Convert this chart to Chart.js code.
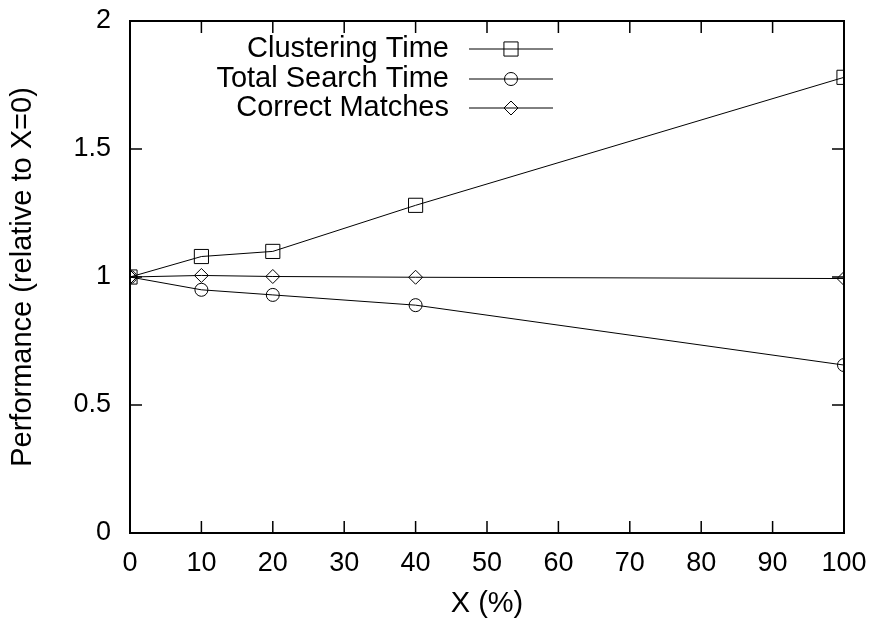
<!DOCTYPE html>
<html>
<head>
<meta charset="utf-8">
<title>Performance relative to X=0</title>
<script src="https://cdn.jsdelivr.net/npm/chart.js@4.4.1/dist/chart.umd.min.js"></script>
<style>
  html, body { margin: 0; padding: 0; background: #ffffff; }
  #wrap { width: 872px; height: 621px; }
</style>
</head>
<body>
<div id="wrap"><canvas id="perfChart" width="872" height="621"></canvas></div>
<script>
// values
var xValues = [0, 10, 20, 40, 100];
var clusteringTime = [1, 1.08, 1.10, 1.28, 1.78];
var totalSearchTime = [1, 0.95, 0.93, 0.89, 0.656];
var correctMatches = [1, 1.006, 1.002, 0.999, 0.994];

var seriesNames = ['Clustering Time', 'Total Search Time', 'Correct Matches'];
var seriesMarkers = ['rect', 'circle', 'rectRot'];
var seriesRadius = [10, 6.5, 7];

var FONT = 'Liberation Sans, Arial, Helvetica, sans-serif';
var TICK_SIZE = 27;
var TEXT_SIZE = 29;

function toPoints(ys) {
  var pts = [];
  for (var i = 0; i < xValues.length; i++) {
    pts.push({ x: xValues[i], y: ys[i] });
  }
  return pts;
}

function makeDataset(i, ys) {
  return {
    label: seriesNames[i],
    data: toPoints(ys),
    borderColor: '#000000',
    borderWidth: 1,
    backgroundColor: 'rgba(0,0,0,0)',
    pointStyle: seriesMarkers[i],
    pointRadius: seriesRadius[i],
    pointBorderColor: '#000000',
    pointBorderWidth: 1,
    pointBackgroundColor: 'rgba(0,0,0,0)',
    tension: 0,
    fill: false
  };
}

// gnuplot style frame with inward ticks on all four sides
var framePlugin = {
  id: 'frame',
  afterDatasetsDraw: function(chart) {
    var ctx = chart.ctx;
    var a = chart.chartArea;
    var xs = chart.scales.x;
    var ys = chart.scales.y;
    var len = 12;
    ctx.save();
    ctx.strokeStyle = '#000000';
    ctx.lineWidth = 1.5;
    ctx.beginPath();
    xs.ticks.forEach(function(t) {
      var px = xs.getPixelForValue(t.value);
      ctx.moveTo(px, a.bottom);
      ctx.lineTo(px, a.bottom - len);
      ctx.moveTo(px, a.top);
      ctx.lineTo(px, a.top + len);
    });
    ys.ticks.forEach(function(t) {
      var py = ys.getPixelForValue(t.value);
      ctx.moveTo(a.left, py);
      ctx.lineTo(a.left + len, py);
      ctx.moveTo(a.right, py);
      ctx.lineTo(a.right - len, py);
    });
    ctx.stroke();
    ctx.lineWidth = 2;
    ctx.strokeRect(a.left, a.top, a.right - a.left, a.bottom - a.top);
    ctx.restore();
  }
};

// key drawn like gnuplot: right aligned labels, sample line with marker
var keyPlugin = {
  id: 'gnuKey',
  afterDraw: function(chart) {
    var ctx = chart.ctx;
    var textRight = 449;
    var lineLeft = 469;
    var lineRight = 553;
    var rowY = [49, 79, 108];
    ctx.save();
    ctx.font = TEXT_SIZE + 'px ' + FONT;
    ctx.textAlign = 'right';
    ctx.textBaseline = 'middle';
    chart.data.datasets.forEach(function(ds, i) {
      var y = rowY[i];
      ctx.fillStyle = '#000000';
      ctx.fillText(ds.label, textRight, y);
      ctx.strokeStyle = '#000000';
      ctx.lineWidth = 1;
      ctx.beginPath();
      ctx.moveTo(lineLeft, y);
      ctx.lineTo(lineRight, y);
      ctx.stroke();
      ctx.fillStyle = 'rgba(0,0,0,0)';
      Chart.helpers.drawPoint(ctx, {
        pointStyle: ds.pointStyle,
        radius: ds.pointRadius,
        borderWidth: 1,
        rotation: 0
      }, (lineLeft + lineRight) / 2, y);
    });
    ctx.restore();
  }
};

var ctx = document.getElementById('perfChart');
var perfChart = new Chart(ctx, {
  type: 'line',
  data: {
    datasets: [
      makeDataset(0, clusteringTime),
      makeDataset(1, totalSearchTime),
      makeDataset(2, correctMatches)
    ]
  },
  options: {
    responsive: false,
    animation: false,
    layout: { padding: { top: 21, right: 28, left: 0, bottom: 0 } },
    plugins: {
      legend: { display: false },
      tooltip: { enabled: false }
    },
    scales: {
      x: {
        type: 'linear',
        min: 0,
        max: 100,
        afterFit: function(scale) {
          scale.height = 88;
          scale.paddingLeft = 0;
          scale.paddingRight = 0;
        },
        ticks: {
          stepSize: 10,
          color: '#000000',
          padding: 14,
          maxRotation: 0,
          autoSkip: false,
          font: { family: FONT, size: TICK_SIZE }
        },
        grid: { display: false, drawTicks: false },
        border: { display: false },
        title: {
          display: true,
          text: 'X (%)',
          color: '#000000',
          padding: { top: 0, bottom: 0 },
          font: { family: FONT, size: TEXT_SIZE }
        }
      },
      y: {
        type: 'linear',
        min: 0,
        max: 2,
        afterFit: function(scale) {
          scale.width = 130;
          scale.paddingTop = 0;
          scale.paddingBottom = 0;
        },
        ticks: {
          stepSize: 0.5,
          color: '#000000',
          padding: 19,
          font: { family: FONT, size: TICK_SIZE },
          callback: function(value) { return String(value); }
        },
        grid: { display: false, drawTicks: false },
        border: { display: false },
        title: {
          display: true,
          text: 'Performance (relative to X=0)',
          color: '#000000',
          padding: { top: 6, bottom: 0 },
          font: { family: FONT, size: TEXT_SIZE }
        }
      }
    }
  },
  plugins: [framePlugin, keyPlugin]
});
</script>
</body>
</html>
